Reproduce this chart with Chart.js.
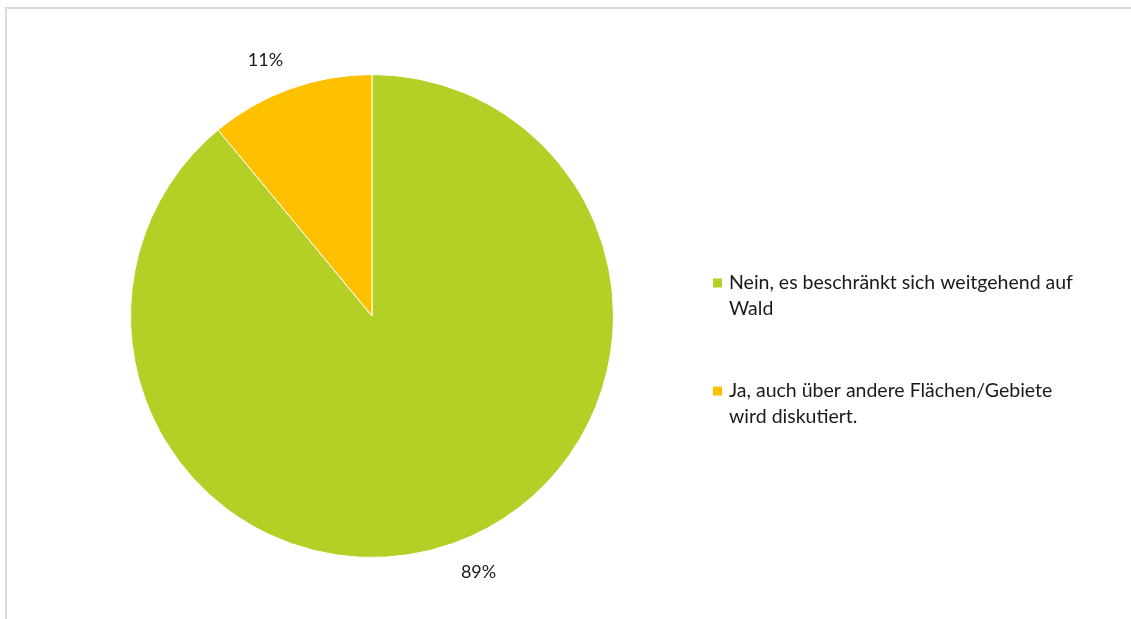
<!DOCTYPE html>
<html>
<head>
<meta charset="utf-8">
<script src="https://cdn.jsdelivr.net/npm/chart.js@4.4.1/dist/chart.umd.min.js"></script>
<style>
  html, body { margin: 0; padding: 0; background: #fff; }
  #wrap { position: relative; width: 1131px; height: 619px; }
  #frame {
    position: absolute; left: 5px; top: 7px; right: 0; bottom: 0;
    border-top: 2px solid #d9d9d9; border-left: 2px solid #d9d9d9;
    pointer-events: none;
  }
</style>
</head>
<body>
<div id="wrap">
  <canvas id="pieChart" width="1131" height="619"></canvas>
  <div id="frame"></div>
</div>
<script>
// answer categories (each line of the legend text as its own entry)
const categories = [
  ['Nein, es beschränkt sich weitgehend auf', 'Wald'],
  ['Ja, auch über andere Flächen/Gebiete', 'wird diskutiert.']
];
const shares = [89, 11];
const sliceColors = ['#b4d026', '#ffc000'];

const FONT = 'Lato, "Open Sans", sans-serif';

// percentage labels placed just outside each slice, corner anchored
const outsideLabels = {
  id: 'outsideLabels',
  afterDatasetsDraw(chart) {
    const ctx = chart.ctx;
    const meta = chart.getDatasetMeta(0);
    ctx.save();
    ctx.font = '18px ' + FONT;
    ctx.fillStyle = '#1a1a1a';
    meta.data.forEach(function (arc, i) {
      const p = arc.getProps(['x', 'y', 'startAngle', 'endAngle', 'outerRadius'], true);
      const mid = (p.startAngle + p.endAngle) / 2;
      const r = p.outerRadius + 21;
      const cx = Math.cos(mid), cy = Math.sin(mid);
      ctx.textAlign = cx < 0 ? 'right' : 'left';
      ctx.textBaseline = cy < 0 ? 'bottom' : 'top';
      ctx.fillText(shares[i] + '%', p.x + cx * r, p.y + cy * r);
    });
    ctx.restore();
  }
};

// legend on the right with wrapped lines
const sideLegend = {
  id: 'sideLegend',
  afterDraw(chart) {
    const ctx = chart.ctx;
    const x0 = 713, tops = [283, 391], lineH = 26, box = 9;
    ctx.save();
    ctx.font = '19.5px ' + FONT;
    ctx.textBaseline = 'middle';
    ctx.textAlign = 'left';
    chart.data.labels.forEach(function (lines, i) {
      ctx.fillStyle = sliceColors[i];
      ctx.fillRect(x0, tops[i] - box / 2, box, box);
      ctx.fillStyle = '#1a1a1a';
      lines.forEach(function (t, j) {
        ctx.fillText(t, x0 + 16, tops[i] + j * lineH);
      });
    });
    ctx.restore();
  }
};

new Chart(document.getElementById('pieChart').getContext('2d'), {
  type: 'pie',
  data: {
    labels: categories,
    datasets: [{
      data: shares,
      backgroundColor: sliceColors,
      borderColor: '#ffffff',
      borderWidth: 1
    }]
  },
  options: {
    responsive: false,
    animation: false,
    layout: { padding: { left: 130, right: 517, top: 74, bottom: 61 } },
    plugins: {
      legend: { display: false },
      tooltip: { enabled: false }
    }
  },
  plugins: [outsideLabels, sideLegend]
});
</script>
</body>
</html>
